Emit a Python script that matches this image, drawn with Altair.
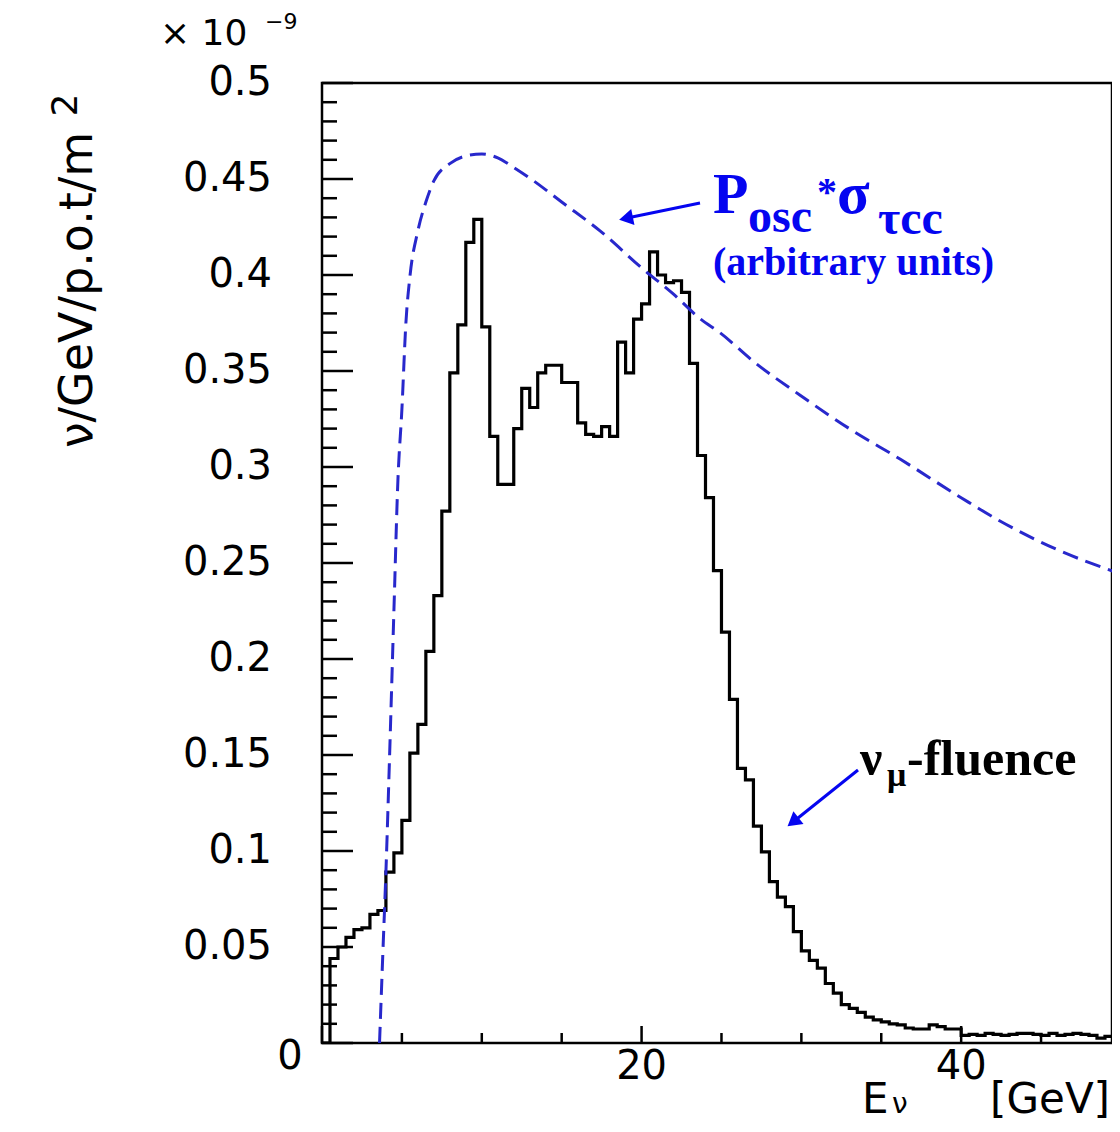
import altair as alt
import pandas as pd
import numpy as np

# ---------------- data (units of 1e-9 nu/GeV/p.o.t/m^2) ----------------
bin_width = 0.5
fluence = [
    0.0, 0.044, 0.050, 0.055, 0.059, 0.060, 0.067, 0.069, 0.089, 0.099,
    0.116, 0.151, 0.166, 0.204, 0.233, 0.277, 0.349, 0.374, 0.417, 0.429,
    0.373, 0.316, 0.291, 0.291, 0.320, 0.341, 0.331, 0.349, 0.353, 0.353,
    0.344, 0.344, 0.323, 0.317, 0.316, 0.321, 0.316, 0.365, 0.349, 0.377,
    0.385, 0.412, 0.400, 0.396, 0.397, 0.391, 0.354, 0.306, 0.284, 0.246,
    0.214, 0.179, 0.143, 0.137, 0.113, 0.0995, 0.084, 0.076, 0.071, 0.058,
    0.048, 0.043, 0.039, 0.031, 0.026, 0.020, 0.018, 0.016, 0.0135, 0.012,
    0.011, 0.010, 0.0094, 0.0078, 0.0073, 0.0073, 0.0094, 0.0085, 0.0073, 0.0073,
    0.004, 0.0045, 0.004, 0.005, 0.0045, 0.004, 0.0045, 0.005, 0.005, 0.0045,
    0.004, 0.005, 0.004, 0.0045, 0.005, 0.0045, 0.004, 0.0025, 0.0035, 0.0045,
]
bin_edges = [round(i * bin_width, 2) for i in range(len(fluence) + 1)]

curve_e = [3.6, 3.8, 4.0, 4.25, 4.5, 4.75, 5.0, 5.25, 5.5, 6.0, 6.5, 7.0, 8.0,
           9.0, 10.0, 11.0, 12.0, 13.25, 15.0, 17.4, 20.1, 22.0, 23.7, 24.9,
           27.0, 29.9, 33.0, 36.2, 40.0, 42.4, 46.0, 49.75]
curve_v = [0.0, 0.045, 0.089, 0.155, 0.225, 0.293, 0.330, 0.375, 0.399, 0.423,
           0.438, 0.449, 0.458, 0.462, 0.463, 0.461, 0.456, 0.449, 0.438, 0.423,
           0.403, 0.390, 0.377, 0.370, 0.355, 0.3375, 0.320, 0.304, 0.284,
           0.272, 0.257, 0.245]

y_label_values = [0.05, 0.1, 0.15, 0.2, 0.25, 0.3, 0.35, 0.4, 0.45, 0.5]
y_label_texts = ["0.05", "0.1", "0.15", "0.2", "0.25", "0.3", "0.35", "0.4", "0.45", "0.5"]
y_major_ticks = [0.0] + y_label_values
y_minor_ticks = [k / 100 for k in range(1, 50) if k % 5 != 0]
x_label_values = [20, 40]
x_label_texts = ["20", "40"]
x_major_ticks = [0, 20, 40]
x_minor_ticks = [5, 10, 15, 25, 30, 35, 45]

# ---------------- layout ----------------
W, H = 790, 960
xs = alt.Scale(domain=[0, 49.44], nice=False, zero=False)
ys = alt.Scale(domain=[0, 0.5], nice=False)

hist_df = pd.DataFrame({"E": bin_edges, "v": fluence + [fluence[-1]]})
curve_df = pd.DataFrame({"E": curve_e, "v": curve_v})

X = lambda: alt.X("E:Q", scale=xs, axis=None)
Y = lambda: alt.Y("v:Q", scale=ys, axis=None)

hist = alt.Chart(hist_df).mark_line(
    interpolate="step-after", color="black", strokeWidth=3.2, clip=True
).encode(x=X(), y=Y())

curve = alt.Chart(curve_df).mark_line(
    interpolate="monotone", color="#2828cc", strokeWidth=3,
    strokeDash=[16, 8], clip=True
).encode(x=X(), y=Y())

ytm = alt.Chart(pd.DataFrame({"v": y_major_ticks})).mark_rule(color="black", strokeWidth=2.5).encode(
    y=Y(), x=alt.value(0), x2=alt.value(31))
ytn = alt.Chart(pd.DataFrame({"v": y_minor_ticks})).mark_rule(color="black", strokeWidth=2.5).encode(
    y=Y(), x=alt.value(0), x2=alt.value(15))
xtm = alt.Chart(pd.DataFrame({"E": x_major_ticks})).mark_rule(color="black", strokeWidth=2.5).encode(
    x=X(), y=alt.value(H), y2=alt.value(H - 17))
xtn = alt.Chart(pd.DataFrame({"E": x_minor_ticks})).mark_rule(color="black", strokeWidth=2.5).encode(
    x=X(), y=alt.value(H), y2=alt.value(H - 10))

ylab = alt.Chart(pd.DataFrame({"v": y_label_values, "t": y_label_texts})).mark_text(
    align="right", baseline="middle", font="DejaVu Sans", fontSize=40, color="black"
).encode(y=Y(), x=alt.value(-50), text="t:N")
xlab = alt.Chart(pd.DataFrame({"E": x_label_values, "t": x_label_texts})).mark_text(
    align="center", baseline="middle", font="DejaVu Sans", fontSize=40, color="black"
).encode(x=X(), y=alt.value(H + 24), text="t:N")


def txt(s, x, y, size, font="DejaVu Sans", color="black", weight="normal",
        align="left", angle=0, baseline="alphabetic"):
    return alt.Chart(pd.DataFrame({"s": [s]})).mark_text(
        align=align, baseline=baseline, font=font, fontSize=size,
        fontWeight=weight, color=color, angle=angle
    ).encode(x=alt.value(x), y=alt.value(y), text="s:N")


def seg(x1, y1, x2, y2, color):
    return alt.Chart(pd.DataFrame({"a": [0]})).mark_rule(color=color, strokeWidth=3).encode(
        x=alt.value(x1), y=alt.value(y1), x2=alt.value(x2), y2=alt.value(y2))


def head(x, y, ang, color):
    return alt.Chart(pd.DataFrame({"a": [0]})).mark_point(
        shape="triangle-up", filled=True, size=260, color=color, opacity=1, angle=ang
    ).encode(x=alt.value(x), y=alt.value(y))


BLUE = "#0505f0"
SERIF = "Liberation Serif"

texts = [
    # zero label and exponent
    txt("0", -32, 974, 40, align="center", baseline="middle"),
    txt("× 10", -162, -38, 36),
    txt("−9", -57, -54, 22),
    # y title
    txt("ν/GeV/p.o.t/m", -244, 207, 46, align="center", baseline="middle", angle=270),
    txt("2", -256, 22, 36, align="center", baseline="middle", angle=270),
    # x title
    txt("E", 540, 1030, 42),
    txt("ν", 570, 1030, 28),
    txt("[GeV]", 788, 1030, 42, align="right"),
    # P_osc * sigma_tau_cc annotation
    txt("P", 391, 130, 58, font=SERIF, color=BLUE, weight="bold"),
    txt("osc", 426, 149, 48, font=SERIF, color=BLUE, weight="bold"),
    txt("*", 495, 122, 40, font=SERIF, color=BLUE, weight="bold"),
    txt("σ", 515, 130, 60, font=SERIF, color=BLUE, weight="bold"),
    txt("τcc", 556, 151, 48, font=SERIF, color=BLUE, weight="bold"),
    txt("(arbitrary units)", 391, 192, 40, font=SERIF, color=BLUE, weight="bold"),
    # nu_mu fluence annotation
    txt("ν", 538, 692, 50, font=SERIF, weight="bold"),
    txt("μ", 565, 703, 34, font=SERIF, weight="bold"),
    txt("-fluence", 585, 692, 50, font=SERIF, weight="bold"),
]

arrows = [
    seg(378, 120, 310, 134, BLUE),
    head(304, 135.4, 258.3, BLUE),
    seg(536, 687, 476, 735, BLUE),
    head(471, 739, 231.2, BLUE),
]

chart = alt.layer(hist, curve, ytm, ytn, xtm, xtn, ylab, xlab, *arrows, *texts).properties(
    width=W, height=H,
    padding={"left": 314, "top": 75, "right": 0, "bottom": 81},
    autosize=alt.AutoSizeParams(type="none"),
    background="white",
).configure_view(stroke="black", strokeWidth=2.5)

chart.save("out.html", embed_options={"renderer": "svg", "actions": False})
